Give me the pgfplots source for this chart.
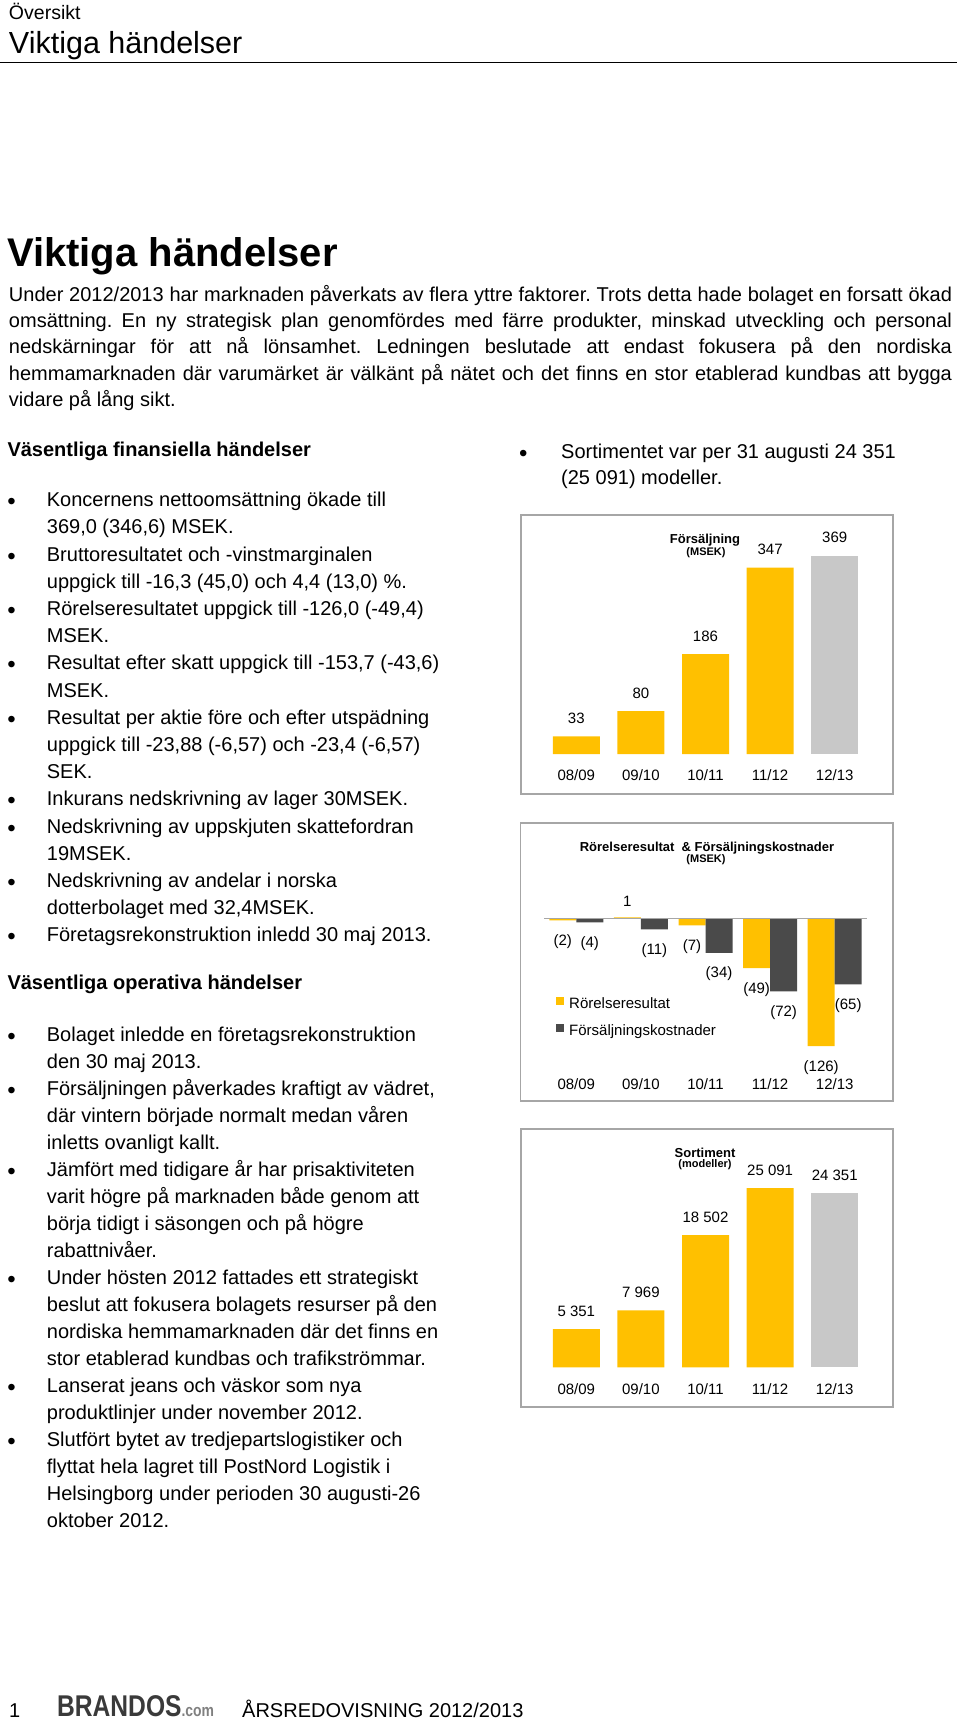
\documentclass[border=0pt]{standalone}
\usepackage{fontspec}
\setmainfont{Liberation Sans}[Ligatures={TeX,NoCommon}]
\newfontfamily\logofont{Liberation Sans}[FakeStretch=0.82]
\usepackage{pgfplots}
\pgfplotsset{compat=1.18}
\definecolor{gold}{HTML}{FFC000}
\definecolor{lgray}{HTML}{C8C8C8}
\definecolor{dgray}{HTML}{4A4A4A}
\definecolor{frame}{HTML}{A6A6A6}
\definecolor{logo}{HTML}{3A3A3A}
\newcommand\fs[1]{\fontsize{#1pt}{#1pt}\selectfont}
\newcommand\T[3]{\node[anchor=base west,inner sep=0pt,font=\fs{20}] at (#1pt,-#2pt) {#3};}
\newcommand\Bu[2]{\node[anchor=base,inner sep=0pt,font=\fs{24}] at (#1pt,-#2pt) {•};}
\newcommand\Pl[2]{\node[anchor=base west,inner sep=0pt,font=\fs{20}] at (8.8pt,-#1pt) {\makebox[943pt][s]{#2}};}
\pgfplotsset{
  mychart/.style={
    scale only axis, width=323pt, xmin=-0.5, xmax=4.5,
    axis line style={draw=none}, tick style={draw=none},
    ytick=\empty, xtick={0,1,2,3,4},
    xticklabels={08/09,09/10,10/11,11/12,12/13},
    xticklabel style={font=\fs{15}, anchor=base, inner sep=0pt},
    clip=false,
  }
}
\begin{document}
\frenchspacing
\begin{tikzpicture}
\path[use as bounding box] (0pt,0pt) rectangle (960pt,-1723pt);
% header
\node[anchor=base west,inner sep=0pt,font=\fs{19.5}] at (8.8pt,-20pt) {Översikt};
\node[anchor=base west,inner sep=0pt,font=\fs{30.5}] at (8.8pt,-54pt) {Viktiga händelser};
\draw[black, line width=1.5pt] (0pt,-62.5pt) -- (957pt,-62.5pt);
% title
\node[anchor=base west,inner sep=0pt,font=\bfseries\fs{40}] at (7pt,-266pt) {Viktiga händelser};
\Pl{301}{Under 2012/2013 har marknaden påverkats av flera yttre faktorer. Trots detta hade bolaget en forsatt ökad}
\Pl{327.4}{omsättning. En ny strategisk plan genomfördes med färre produkter, minskad utveckling och personal}
\Pl{353.8}{nedskärningar för att nå lönsamhet. Ledningen beslutade att endast fokusera på den nordiska}
\Pl{380.2}{hemmamarknaden där varumärket är välkänt på nätet och det finns en stor etablerad kundbas att bygga}
\T{8.8}{406.6}{vidare på lång sikt.}
% left column
\node[anchor=base west,inner sep=0pt,font=\bfseries\fs{20}] at (7.3pt,-456pt) {Väsentliga finansiella händelser};
\Bu{11.7}{509.7}\T{46.7}{506.7}{Koncernens nettoomsättning ökade till}
\T{46.7}{533.9}{369,0 (346,6) MSEK.}
\Bu{11.7}{564.1}\T{46.7}{561.1}{Bruttoresultatet och -vinstmarginalen}
\T{46.7}{588.3}{uppgick till -16,3 (45,0) och 4,4 (13,0) \%.}
\Bu{11.7}{618.5}\T{46.7}{615.5}{Rörelseresultatet uppgick till -126,0 (-49,4)}
\T{46.7}{642.7}{MSEK.}
\Bu{11.7}{672.9}\T{46.7}{669.9}{Resultat efter skatt uppgick till -153,7 (-43,6)}
\T{46.7}{697.1}{MSEK.}
\Bu{11.7}{727.3}\T{46.7}{724.3}{Resultat per aktie före och efter utspädning}
\T{46.7}{751.5}{uppgick till -23,88 (-6,57) och -23,4 (-6,57)}
\T{46.7}{778.7}{SEK.}
\Bu{11.7}{808.9}\T{46.7}{805.9}{Inkurans nedskrivning av lager 30MSEK.}
\Bu{11.7}{836.1}\T{46.7}{833.1}{Nedskrivning av uppskjuten skattefordran}
\T{46.7}{860.3}{19MSEK.}
\Bu{11.7}{890.5}\T{46.7}{887.5}{Nedskrivning av andelar i norska}
\T{46.7}{914.7}{dotterbolaget med 32,4MSEK.}
\Bu{11.7}{944.9}\T{46.7}{941.9}{Företagsrekonstruktion inledd 30 maj 2013.}
\node[anchor=base west,inner sep=0pt,font=\bfseries\fs{20}] at (7.3pt,-989pt) {Väsentliga operativa händelser};
\Bu{11.7}{1044.7}\T{46.7}{1041.7}{Bolaget inledde en företagsrekonstruktion}
\T{46.7}{1068.7}{den 30 maj 2013.}
\Bu{11.7}{1098.7}\T{46.7}{1095.7}{Försäljningen påverkades kraftigt av vädret,}
\T{46.7}{1122.7}{där vintern började normalt medan våren}
\T{46.7}{1149.7}{inletts ovanligt kallt.}
\Bu{11.7}{1179.7}\T{46.7}{1176.7}{Jämfört med tidigare år har prisaktiviteten}
\T{46.7}{1203.7}{varit högre på marknaden både genom att}
\T{46.7}{1230.7}{börja tidigt i säsongen och på högre}
\T{46.7}{1257.7}{rabattnivåer.}
\Bu{11.7}{1287.7}\T{46.7}{1284.7}{Under hösten 2012 fattades ett strategiskt}
\T{46.7}{1311.7}{beslut att fokusera bolagets resurser på den}
\T{46.7}{1338.7}{nordiska hemmamarknaden där det finns en}
\T{46.7}{1365.7}{stor etablerad kundbas och trafikströmmar.}
\Bu{11.7}{1395.7}\T{46.7}{1392.7}{Lanserat jeans och väskor som nya}
\T{46.7}{1419.7}{produktlinjer under november 2012.}
\Bu{11.7}{1449.7}\T{46.7}{1446.7}{Slutfört bytet av tredjepartslogistiker och}
\T{46.7}{1473.7}{flyttat hela lagret till PostNord Logistik i}
\T{46.7}{1500.7}{Helsingborg under perioden 30 augusti-26}
\T{46.7}{1527.7}{oktober 2012.}
% right column
\Bu{523.3}{461.3}\T{561}{458.3}{Sortimentet var per 31 augusti 24 351}
\T{561}{484.5}{(25 091) modeller.}
% frames
\draw[frame, line width=1.5pt] (521pt,-515pt) rectangle (893pt,-794pt);
\draw[frame, line width=1.5pt] (520.7pt,-823pt) rectangle (893pt,-1101pt);
\draw[frame, line width=1.5pt] (521pt,-1129pt) rectangle (893pt,-1407pt);
% chart 1
\begin{axis}[mychart, at={(544pt,-754pt)}, anchor=south west,
  height=214.8pt, ymin=0, ymax=400, ybar, bar width=47pt,
  xticklabel style={yshift=-22.7pt},
  nodes near coords, point meta=explicit symbolic,
  every node near coord/.append style={font=\fs{15}, anchor=base, inner sep=0pt, yshift=13pt}]
\addplot[fill=gold, draw=none, bar shift=0pt] table[x=x, y=y, meta=lab, col sep=comma] {
x,y,lab
0,33,33
1,80,80
2,186,186
3,347,347
};
\addplot[fill=lgray, draw=none, bar shift=0pt] table[x=x, y=y, meta=lab, col sep=comma] {
x,y,lab
4,369,369
};
\end{axis}
\node[anchor=base,inner sep=0pt,font=\bfseries\fs{13}] at (705pt,-543.3pt) {Försäljning};
\node[anchor=base,inner sep=0pt,font=\bfseries\fs{11}] at (706pt,-555.5pt) {(MSEK)};
% chart 2
\begin{axis}[mychart, at={(544pt,-1070.55pt)}, anchor=south west,
  height=172.55pt, ymin=-150, ymax=20, ybar=0pt, bar width=27pt,
  xticklabel style={yshift=-14.5pt},
  nodes near coords, point meta=explicit symbolic,
  visualization depends on={rawy \as \rawy},
  every node near coord/.append style={font=\fs{15}, anchor=base, inner sep=0pt, yshift={ifthenelse(\rawy<0,-25,11)}},
  legend cell align=left,
  legend style={at={(0.0372,0.428)}, anchor=north west, draw=none, fill=none, inner sep=0pt,
    font=\fs{15}, row sep=11.6pt, column sep=5pt,
    nodes={inner sep=0pt, text height=11pt, text depth=4pt}},
  legend image code/.code={\fill[#1] (0pt,0pt) rectangle (8pt,8pt);}]
\addplot[fill=gold, draw=none] table[x=x, y=y, meta=lab, col sep=comma] {
x,y,lab
0,-2,(2)
1,1,1
2,-7,(7)
3,-49,(49)
4,-126,(126)
};
\addlegendentry{Rörelseresultat}
\addplot[fill=dgray, draw=none] table[x=x, y=y, meta=lab, col sep=comma] {
x,y,lab
0,-4,(4)
1,-11,(11)
2,-34,(34)
3,-72,(72)
4,-65,(65)
};
\addlegendentry{Försäljningskostnader}
\draw[frame, line width=1.5pt] (axis cs:-0.5,0) -- (axis cs:4.5,0);
\end{axis}
\node[anchor=base,inner sep=0pt,font=\bfseries\fs{13}] at (707pt,-851.7pt) {Rörelseresultat\ \ \& Försäljningskostnader};
\node[anchor=base,inner sep=0pt,font=\bfseries\fs{11}] at (706pt,-862pt) {(MSEK)};
% chart 3
\begin{axis}[mychart, at={(544pt,-1367.3pt)}, anchor=south west,
  height=214.2pt, ymin=0, ymax=30000, ybar, bar width=47pt,
  xticklabel style={yshift=-22.7pt},
  nodes near coords, point meta=explicit symbolic,
  every node near coord/.append style={font=\fs{15}, anchor=base, inner sep=0pt, yshift=13pt}]
\addplot[fill=gold, draw=none, bar shift=0pt] table[x=x, y=y, meta=lab, col sep=comma] {
x,y,lab
0,5351,5 351
1,7969,7 969
2,18502,18 502
3,25091,25 091
};
\addplot[fill=lgray, draw=none, bar shift=0pt] table[x=x, y=y, meta=lab, col sep=comma] {
x,y,lab
4,24351,24 351
};
\end{axis}
\node[anchor=base,inner sep=0pt,font=\bfseries\fs{13}] at (705pt,-1157.3pt) {Sortiment};
\node[anchor=base,inner sep=0pt,font=\bfseries\fs{11}] at (705pt,-1167.5pt) {(modeller)};
% footer
\node[anchor=base west,inner sep=0pt,font=\fs{20}] at (9pt,-1717pt) {1};
\node[anchor=base west,inner sep=0pt] at (57pt,-1716pt) {{\logofont\bfseries\fs{30}\color{logo}BRANDOS}{\logofont\bfseries\fs{17}\color{gray}.com}};
\node[anchor=base west,inner sep=0pt,font=\fs{20}] at (242pt,-1717pt) {ÅRSREDOVISNING 2012/2013};
\end{tikzpicture}
\end{document}
